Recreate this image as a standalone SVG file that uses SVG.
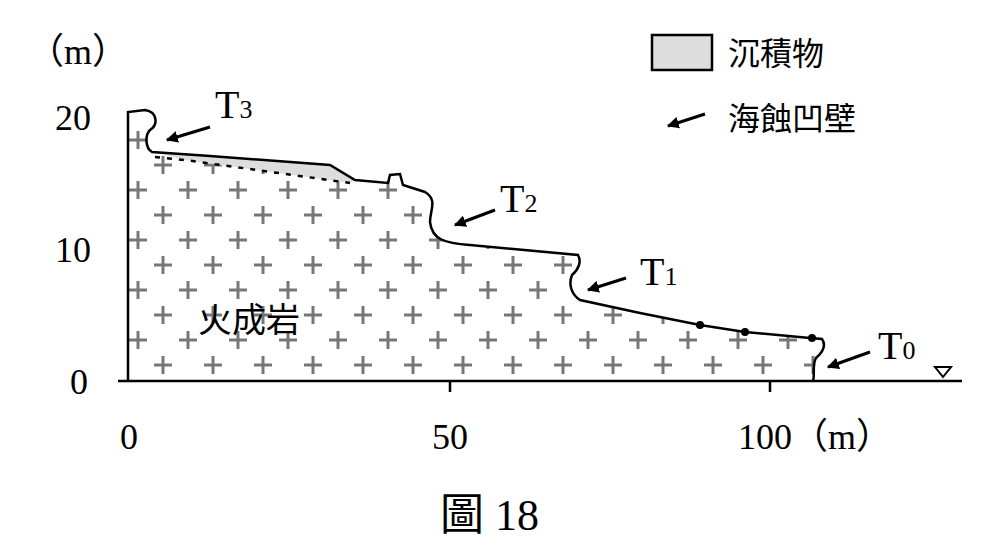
<svg xmlns="http://www.w3.org/2000/svg" width="987" height="547" viewBox="0 0 987 547">
<style>
.t{font-family:"Liberation Serif","Noto Sans CJK TC",serif;fill:#000}
.c{font-family:"Noto Sans CJK TC",sans-serif;fill:#000}
.ar{stroke:#000;stroke-width:3;fill:none;marker-end:url(#ah)}
.p{stroke:#777;stroke-width:3}
</style>
<defs>
<marker id="ah" viewBox="0 0 10 10" refX="9" refY="5" markerWidth="4" markerHeight="4" orient="auto"><path d="M0,0L10,5L0,10z" fill="#000"/></marker>
<clipPath id="cl"><path id="rk" d="M128,381 L128,112 L145,110 C158,112 158,125 150,130 C145,135 145,148 152,152 L210,156 L330,165 L355,180 L388,183 L390,175 L400,174 L403,185 L425,192 C438,200 430,210 430,222 C432,240 445,243 470,245 L578,255 C582,262 578,270 572,275 C568,285 572,295 580,300 L640,313 L700,325 L745,332 L810,338 L822,339 C826,345 823,352 816,358 C812,365 815,375 813,381 Z"/></clipPath>
<pattern id="pl" x="129" y="128" width="50" height="50" patternUnits="userSpaceOnUse">
<path class="p" d="M0,12h18M9,3v18M25,37h18M34,28v18"/>
</pattern>
</defs>
<rect width="987" height="547" fill="#fff"/>
<g id="rock">
<rect x="120" y="100" width="720" height="290" fill="url(#pl)" clip-path="url(#cl)"/>
<path d="M152,152 L210,156 L330,165 L355,180 L350,183 L185,160 Z" fill="#ddd"/>
<path d="M155,157 L185,160 L350,183" stroke="#000" stroke-width="2.5" stroke-dasharray="5,7" fill="none"/>
<path d="M128,381 L128,112 L145,110 C158,112 158,125 150,130 C145,135 145,148 152,152 L210,156 L330,165 L355,180 L388,183 L390,175 L400,174 L403,185 L425,192 C438,200 430,210 430,222 C432,240 445,243 470,245 L578,255 C582,262 578,270 572,275 C568,285 572,295 580,300 L640,313 L700,325 L745,332 L810,338 L822,339 C826,345 823,352 816,358 C812,365 815,375 813,381" fill="none" stroke="#000" stroke-width="2.5"/>
<circle cx="700" cy="325" r="4"/><circle cx="745" cy="332" r="4"/><circle cx="812" cy="338" r="4"/>
</g>
<g id="axes" stroke="#000" stroke-width="2.5">
<line x1="118" y1="381" x2="962" y2="381"/>
<line x1="450" y1="381" x2="450" y2="392"/><line x1="770" y1="381" x2="770" y2="392"/>
<path d="M935,367h16l-8,10z" fill="none" stroke-width="2"/>
</g>
<g id="connectors">
<line class="ar" x1="210" y1="127" x2="167" y2="140"/>
<line class="ar" x1="495" y1="210" x2="455" y2="225"/>
<line class="ar" x1="626" y1="278" x2="588" y2="290"/>
<line class="ar" x1="870" y1="352" x2="828" y2="367"/>
<line class="ar" x1="705" y1="114" x2="668" y2="126"/>
</g>
<g id="legend">
<rect x="652" y="35" width="60" height="35" fill="#ddd" stroke="#000" stroke-width="2.5"/>
<text class="c" x="728" y="65" font-size="32">沉積物</text>
<text class="c" x="728" y="130" font-size="32">海蝕凹壁</text>
</g>
<g id="labels">
<text class="t" x="28" y="64" font-size="36">（m）</text>
<text class="t" x="55" y="130" font-size="36">20</text>
<text class="t" x="55" y="262" font-size="36">10</text>
<text class="t" x="70" y="394" font-size="36">0</text>
<text class="t" x="120" y="449" font-size="36">0</text>
<text class="t" x="432" y="449" font-size="36">50</text>
<text class="t" x="738" y="449" font-size="36">100（m）</text>
<text class="t" x="215" y="118" font-size="40">T<tspan font-size="26">3</tspan></text>
<text class="t" x="500" y="212" font-size="40">T<tspan font-size="26">2</tspan></text>
<text class="t" x="640" y="285" font-size="40">T<tspan font-size="26">1</tspan></text>
<text class="t" x="878" y="359" font-size="40">T<tspan font-size="26">0</tspan></text>
<text class="c" x="198" y="332" font-size="34">火成岩</text>
<text class="t" x="440" y="530" font-size="44">圖 18</text>
</g>
</svg>
